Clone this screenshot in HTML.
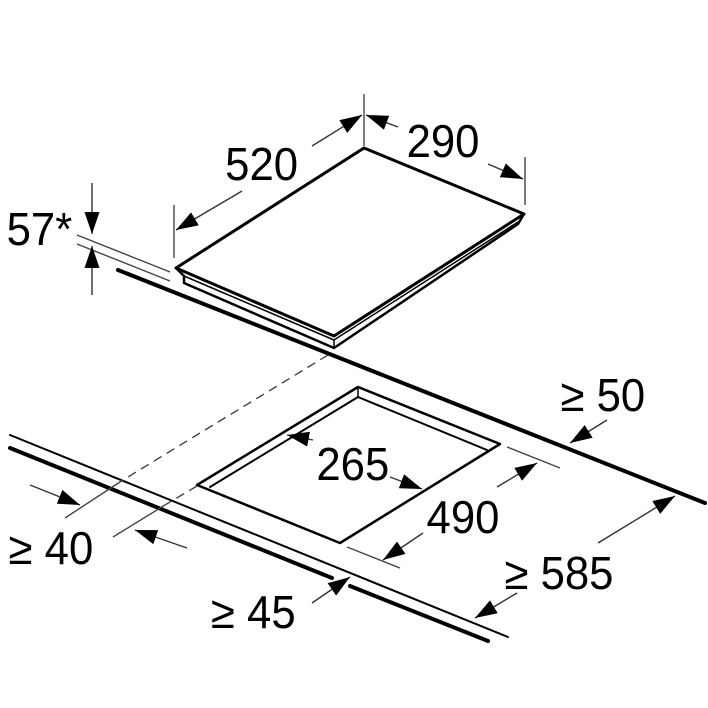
<!DOCTYPE html>
<html><head><meta charset="utf-8"><style>
html,body{margin:0;padding:0;background:#fff;}
svg{display:block;}
text{font-family:"Liberation Sans",Arial,sans-serif;fill:#000;}
</style></head><body>
<svg width="708" height="708" viewBox="0 0 708 708" xmlns="http://www.w3.org/2000/svg">
<defs>
<marker id="a" viewBox="0 0 10 10" refX="10" refY="5" markerWidth="22" markerHeight="15" markerUnits="userSpaceOnUse" orient="auto" preserveAspectRatio="none">
<path d="M0,0 L10,5 L0,10 z" fill="#000"/>
</marker>
</defs>
<g fill="none" stroke="#000" stroke-linejoin="round" stroke-linecap="round">
<path d="M176,268 L364,148 L524,214 L334,336 Z" stroke-width="3"/>
<path d="M176,268 L184,276 L184,283 L334,348 L518,224 L524,214" stroke-width="2.5"/>
<path d="M184,276 L334,340 L334,348 M334,340 L518,222" stroke-width="1.5"/>
<line x1="118" y1="270" x2="705" y2="503" stroke-width="4"/>
<line x1="10" y1="435" x2="508" y2="637" stroke-width="2"/>
<line x1="10" y1="448" x2="332" y2="578" stroke-width="4"/>
<line x1="350" y1="586" x2="488" y2="641" stroke-width="4"/>
<path d="M197,485 L358,387 L500,444 L340,543 Z" stroke-width="2.5"/>
<path d="M210,487 L358,397 L487,450" stroke-width="2"/>
<line x1="358" y1="387" x2="358" y2="397" stroke-width="1.5"/>
</g>
<g fill="none" stroke="#444" stroke-width="1.4">
<line x1="328" y1="355" x2="123" y2="480" stroke-dasharray="9,6"/>
<line x1="123" y1="480" x2="65" y2="518"/>
<line x1="197" y1="486" x2="165" y2="505" stroke-dasharray="9,6"/>
<line x1="165" y1="505" x2="113" y2="537"/>
<line x1="174" y1="205" x2="174" y2="258"/>
<line x1="364" y1="94" x2="364" y2="146"/>
<line x1="525" y1="157" x2="525" y2="205"/>
<line x1="77" y1="235" x2="170" y2="272"/>
<line x1="77" y1="244" x2="170" y2="281"/>
<line x1="507" y1="447" x2="560" y2="468"/>
<line x1="347" y1="547" x2="400" y2="568"/>
</g>
<g stroke="#333" stroke-width="1.4" marker-end="url(#a)">
<line x1="242" y1="191" x2="176" y2="230"/>
<line x1="312" y1="146" x2="362" y2="115"/>
<line x1="398" y1="127" x2="366" y2="115"/>
<line x1="488" y1="164" x2="523" y2="179"/>
<line x1="92" y1="183" x2="92" y2="234"/>
<line x1="92" y1="295" x2="92" y2="246"/>
<line x1="30" y1="485" x2="80" y2="505"/>
<line x1="187" y1="548" x2="135" y2="530"/>
<line x1="312" y1="603" x2="350" y2="577"/>
<line x1="313" y1="440" x2="287" y2="435"/>
<line x1="390" y1="477" x2="422" y2="489"/>
<line x1="497" y1="487" x2="537" y2="463"/>
<line x1="423" y1="533" x2="383" y2="560"/>
<line x1="607" y1="420" x2="570" y2="443"/>
<line x1="598" y1="543" x2="675" y2="496"/>
<line x1="517" y1="593" x2="475" y2="618"/>
</g>
<g font-size="46" transform="scale(0.95,1)">
<text x="7" y="245">57*</text>
<text x="237" y="180">520</text>
<text x="428" y="157">290</text>
<text x="333" y="480">265</text>
<text x="449" y="533">490</text>
<text x="590" y="411">≥ 50</text>
<text x="9" y="564">≥ 40</text>
<text x="531" y="589">≥ 585</text>
<text x="222" y="628">≥ 45</text>
</g>
</svg>
</body></html>
